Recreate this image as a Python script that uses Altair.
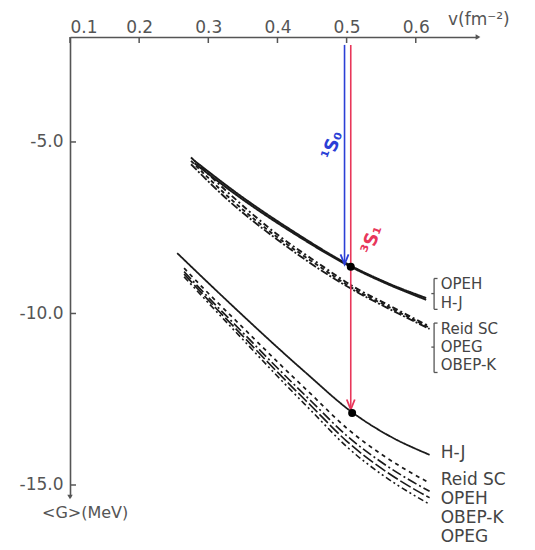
import altair as alt
import pandas as pd

# ---------------- data ----------------
x_ticks = [0.1, 0.2, 0.3, 0.4, 0.5, 0.6]
y_ticks = [-5.0, -10.0, -15.0]

# upper group of curves
up_solid_v = [0.28, 0.35, 0.42, 0.509, 0.56, 0.615]
up_opeh_G = [-5.55, -6.62, -7.57, -8.64, -9.12, -9.55]
up_hj_G = [-5.62, -6.68, -7.62, -8.67, -9.15, -9.60]
up_dd_v = [0.275, 0.33, 0.40, 0.46, 0.51, 0.56, 0.62]
up_reid_G = [-5.45, -6.50, -7.70, -8.55, -9.22, -9.75, -10.38]
up_opeg_G = [-5.55, -6.62, -7.78, -8.62, -9.28, -9.80, -10.42]
up_obepk_G = [-5.65, -6.72, -7.85, -8.70, -9.32, -9.85, -10.45]

# lower group of curves
lo_hj_v = [0.255, 0.30, 0.35, 0.40, 0.44, 0.508, 0.56, 0.62]
lo_hj_G = [-8.24, -9.11, -10.06, -10.99, -11.71, -12.88, -13.55, -14.12]
lo_v = [0.265, 0.30, 0.35, 0.40, 0.45, 0.50, 0.55, 0.60, 0.62]
lo_reid_G = [-8.68, -9.41, -10.41, -11.41, -12.38, -13.34, -14.10, -14.72, -14.94]
lo_opeh_G = [-8.78, -9.53, -10.56, -11.59, -12.58, -13.56, -14.33, -14.96, -15.18]
lo_obepk_G = [-8.85, -9.61, -10.66, -11.71, -12.72, -13.72, -14.51, -15.15, -15.37]
lo_opeg_G = [-8.93, -9.69, -10.76, -11.83, -12.86, -13.88, -14.68, -15.33, -15.56]

# arrows (1S0 blue, 3S1 red)
arrow_v = [0.497, 0.506]
arrow_top = [-2.17, -2.17]
arrow_end = [-8.57, -12.80]
arrow_name = ["1S0", "3S1"]
arrow_label = ["¹S₀", "³S₁"]
arrow_label_v = [0.480, 0.537]
arrow_label_G = [-5.10, -7.85]

dot_v = [0.506, 0.508]
dot_G = [-8.64, -12.90]

# curve labels
label_text = ["OPEH", "H-J", "Reid SC", "OPEG", "OBEP-K",
              "H-J", "Reid SC", "OPEH", "OBEP-K", "OPEG"]
label_v = [0.636] * 10
label_G = [-9.15, -9.68, -10.45, -10.98, -11.51,
           -14.07, -14.85, -15.40, -15.95, -16.52]
label_size = [15, 15, 15, 15, 15, 17, 17, 17, 17, 17]

# brackets grouping the upper labels
brace_v = [0.6265, 0.6265]
brace_v2 = [0.6315, 0.6315]
brace_vn = [0.6225, 0.6225]
brace_top = [-8.98, -10.28]
brace_mid = [-9.42, -10.98]
brace_bot = [-9.88, -11.72]

# ---------------- build tables ----------------
rows = []
def add(name, vs, gs):
    for i, (a, b) in enumerate(zip(vs, gs)):
        rows.append({"curve": name, "v": a, "G": b, "i": i})

add("u_OPEH", up_solid_v, up_opeh_G)
add("u_HJ", up_solid_v, up_hj_G)
add("u_Reid", up_dd_v, up_reid_G)
add("u_OPEG", up_dd_v, up_opeg_G)
add("u_OBEPK", up_dd_v, up_obepk_G)
add("l_HJ", lo_hj_v, lo_hj_G)
add("l_Reid", lo_v, lo_reid_G)
add("l_OPEH", lo_v, lo_opeh_G)
add("l_OBEPK", lo_v, lo_obepk_G)
add("l_OPEG", lo_v, lo_opeg_G)
curves = pd.DataFrame(rows)

dash_domain = ["u_OPEH", "u_HJ", "u_Reid", "u_OPEG", "u_OBEPK",
               "l_HJ", "l_Reid", "l_OPEH", "l_OBEPK", "l_OPEG"]
dash_range = [[1, 0], [1, 0], [6, 3, 2, 3], [4, 3], [8, 2, 2, 2],
              [1, 0], [4, 4], [10, 3, 2, 3], [12, 3], [6, 3, 2, 3, 2, 3]]
width_range = [2, 1.6, 1.4, 1.4, 1.4, 1.5, 1.4, 1.4, 1.4, 1.4]

arrows = pd.DataFrame({"v": arrow_v, "top": arrow_top, "end": arrow_end,
                       "name": arrow_name, "label": arrow_label,
                       "lv": arrow_label_v, "lG": arrow_label_G})
dots = pd.DataFrame({"v": dot_v, "G": dot_G})
labels = pd.DataFrame({"t": label_text, "v": label_v, "G": label_G, "s": label_size})
braces = pd.DataFrame({"v": brace_v, "v2": brace_v2, "vn": brace_vn,
                       "top": brace_top, "mid": brace_mid, "bot": brace_bot})
xt = pd.DataFrame({"v": x_ticks})
yt = pd.DataFrame({"G": y_ticks})

X_DOM = [0.1, 0.69]
Y_DOM = [-15.35, -1.94]
GREY = "#555555"
FONT = "DejaVu Sans"

xs = alt.Scale(domain=X_DOM, nice=False, zero=False)
ys = alt.Scale(domain=Y_DOM, nice=False, zero=False)
col = alt.Scale(domain=arrow_name, range=["#2b3fd6", "#e8365a"])

xaxis = alt.Axis(orient="top", values=x_ticks, format=".1f", title=None,
                 labelFontSize=17, labelFont=FONT, labelColor=GREY,
                 domainColor=GREY, domainWidth=1.6, ticks=False,
                 labelPadding=1, grid=False)
yaxis = alt.Axis(orient="left", values=y_ticks, title=None,
                 labelExpr="'-' + format(abs(datum.value), '.1f')",
                 labelFontSize=17, labelFont=FONT, labelColor=GREY,
                 domainColor=GREY, domainWidth=1.6, ticks=False,
                 labelPadding=7, grid=False)

lines = alt.Chart(curves).mark_line(interpolate="monotone", clip=False, color="#1a1a1a").encode(
    x=alt.X("v:Q", scale=xs, axis=xaxis),
    y=alt.Y("G:Q", scale=ys, axis=yaxis),
    order="i:Q",
    strokeDash=alt.StrokeDash("curve:N", scale=alt.Scale(domain=dash_domain, range=dash_range), legend=None),
    strokeWidth=alt.StrokeWidth("curve:N", scale=alt.Scale(domain=dash_domain, range=width_range), legend=None),
)

xtick_marks = alt.Chart(xt).mark_rule(color=GREY, strokeWidth=1.5).encode(
    x=alt.X("v:Q", scale=xs), y=alt.value(0), y2=alt.value(6))
ytick_marks = alt.Chart(yt).mark_rule(color=GREY, strokeWidth=1.5).encode(
    y=alt.Y("G:Q", scale=ys), x=alt.value(0), x2=alt.value(6))

arrow_lines = alt.Chart(arrows).mark_rule(strokeWidth=1.6).encode(
    x=alt.X("v:Q", scale=xs), y=alt.Y("top:Q", scale=ys), y2="end:Q",
    color=alt.Color("name:N", scale=col, legend=None))
arrow_heads = alt.Chart(arrows).mark_point(
    shape="M-1,-2.5L0,0L1,-2.5", filled=False, size=64, strokeWidth=1.8, opacity=1).encode(
    x=alt.X("v:Q", scale=xs), y=alt.Y("end:Q", scale=ys),
    color=alt.Color("name:N", scale=col, legend=None))
arrow_text = alt.Chart(arrows).mark_text(
    angle=290, fontSize=18, fontWeight="bold", font=FONT, baseline="middle", align="center").encode(
    x=alt.X("lv:Q", scale=xs), y=alt.Y("lG:Q", scale=ys), text="label:N",
    color=alt.Color("name:N", scale=col, legend=None))

dot_marks = alt.Chart(dots).mark_circle(size=64, color="black", opacity=1).encode(
    x=alt.X("v:Q", scale=xs), y=alt.Y("G:Q", scale=ys))

label_marks = alt.Chart(labels).mark_text(
    align="left", baseline="middle", font=FONT, color="#444444").encode(
    x=alt.X("v:Q", scale=xs), y=alt.Y("G:Q", scale=ys), text="t:N",
    size=alt.Size("s:Q", scale=None, legend=None))

BR = "#555555"
brace_vert = alt.Chart(braces).mark_rule(color=BR, strokeWidth=1.3).encode(
    x=alt.X("v:Q", scale=xs), y=alt.Y("top:Q", scale=ys), y2="bot:Q")
brace_top_h = alt.Chart(braces).mark_rule(color=BR, strokeWidth=1.3).encode(
    x=alt.X("v:Q", scale=xs), x2="v2:Q", y=alt.Y("top:Q", scale=ys))
brace_bot_h = alt.Chart(braces).mark_rule(color=BR, strokeWidth=1.3).encode(
    x=alt.X("v:Q", scale=xs), x2="v2:Q", y=alt.Y("bot:Q", scale=ys))
brace_mid_h = alt.Chart(braces).mark_rule(color=BR, strokeWidth=1.3).encode(
    x=alt.X("vn:Q", scale=xs), x2="v:Q", y=alt.Y("mid:Q", scale=ys))

x_title = alt.Chart(pd.DataFrame({"t": ["v(fm⁻²)"]})).mark_text(
    align="left", baseline="middle", fontSize=17, font=FONT, color=GREY).encode(
    text="t:N", x=alt.value(378), y=alt.value(-17))
y_title = alt.Chart(pd.DataFrame({"t": ["<G>(MeV)"]})).mark_text(
    align="left", baseline="middle", fontSize=16, font=FONT, color=GREY).encode(
    text="t:N", x=alt.value(-28), y=alt.value(16 + 460))

axis_ends = pd.DataFrame({"v": [X_DOM[1], X_DOM[0]], "G": [Y_DOM[1], Y_DOM[0]],
                          "shape": ["triangle-right", "triangle-down"]})
ends = alt.Chart(axis_ends).mark_point(filled=True, size=30, color=GREY, opacity=1).encode(
    x=alt.X("v:Q", scale=xs), y=alt.Y("G:Q", scale=ys),
    shape=alt.Shape("shape:N", scale=None, legend=None))

chart = alt.layer(
    lines, xtick_marks, ytick_marks, arrow_lines, arrow_heads, arrow_text,
    dot_marks, label_marks, brace_vert, brace_top_h, brace_bot_h, brace_mid_h,
    x_title, y_title, ends
).properties(
    width=408, height=460,
    autosize=alt.AutoSizeParams(type="none"),
    padding={"left": 70, "top": 37, "right": 57, "bottom": 53},
    background="white",
).configure_view(stroke=None)

chart.save("out.html", embed_options={"renderer": "svg", "actions": False})
